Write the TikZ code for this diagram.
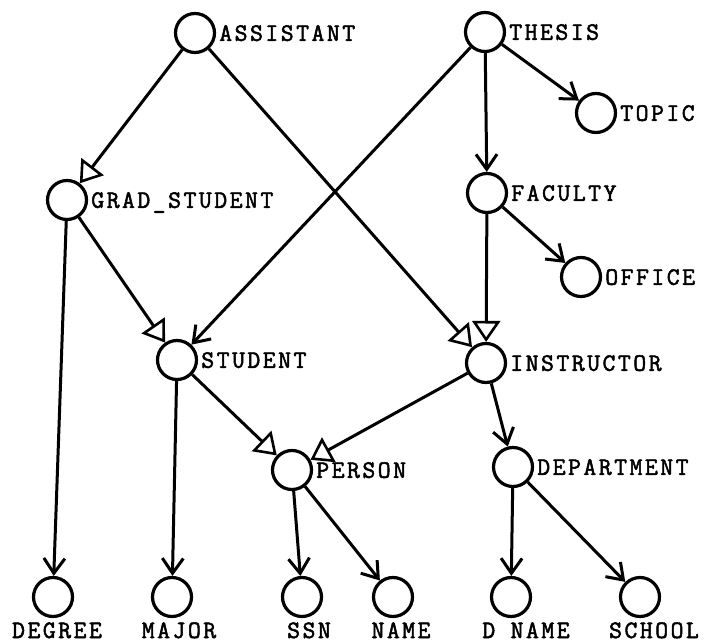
\documentclass[tikz,border=0pt]{standalone}
\usepackage{fontspec}
\newfontfamily\labfont[FakeBold=2,LetterSpace=10]{Latin Modern Mono}
\usetikzlibrary{arrows.meta}
\begin{document}
\begin{tikzpicture}[x=1pt,y=-1pt,
  ent/.style={circle, draw, line width=3.2pt, minimum size=39pt, inner sep=0pt},
  lab/.style={font=\labfont\fontsize{25}{25}\selectfont, inner sep=0pt, text depth=0pt},
  rlab/.style={label={[lab, label distance=3pt]right:#1}},
  isa/.style={line width=3pt, -{Triangle[open, length=21pt, width=28pt, line width=2.6pt]}},
  attr/.style={line width=3pt, -{Straight Barb[length=15pt, width=21pt, line width=3pt]}},
]
\useasboundingbox (0,0) rectangle (717,644);

% entity types
\node[ent, rlab=ASSISTANT]    (assistant)  at (195,33)  {};
\node[ent, rlab=THESIS]       (thesis)     at (485,32)  {};
\node[ent, rlab=TOPIC]        (topic)      at (596,113) {};
\node[ent, rlab=FACULTY]      (faculty)    at (487,193) {};
\node[ent, rlab=GRAD\_STUDENT] (grad)      at (67,200)  {};
\node[ent, rlab=OFFICE]       (office)     at (581,277) {};
\node[ent, rlab=STUDENT]      (student)    at (177,360) {};
\node[ent, rlab=INSTRUCTOR]   (instructor) at (486,363) {};
\node[ent, rlab=PERSON]       (person)     at (292,470) {};
\node[ent, rlab=DEPARTMENT]   (department) at (513,467) {};

% attribute leaves
\node[ent] (degree) at (53,597)  {};
\node[ent] (major)  at (172,597) {};
\node[ent] (ssn)    at (302,597) {};
\node[ent] (name)   at (393,597) {};
\node[ent] (dname)  at (511,597) {};
\node[ent] (school) at (640,597) {};

\node[lab, anchor=base] (ldegree) at (57,638)  {DEGREE};
\node[lab, anchor=base] (lmajor)  at (179,638) {MAJOR};
\node[lab, anchor=base] (lssn)    at (309,638) {SSN};
\node[lab, anchor=base] (lname)   at (401,638) {NAME};
\node[lab, anchor=base] (ldname)  at (526,638) {D NAME};
\node[lab, anchor=base] (lschool) at (654,638) {SCHOOL};

% generalisation links
\draw[isa] (assistant) -- (grad);
\draw[isa] (assistant) -- (instructor);
\draw[isa] (grad) -- (student);
\draw[isa] (faculty) -- (instructor);
\draw[isa] (student) -- (person);
\draw[isa] (instructor) -- (person);

% attribute / reference links
\draw[attr] (thesis) -- (student);
\draw[attr] (thesis) -- (faculty);
\draw[attr] (thesis) -- (topic);
\draw[attr] (faculty) -- (office);
\draw[attr] (grad) -- (degree);
\draw[attr] (student) -- (major);
\draw[attr] (instructor) -- (department);
\draw[attr] (person) -- (ssn);
\draw[attr] (person) -- (name);
\draw[attr] (department) -- (dname);
\draw[attr] (department) -- (school);
\end{tikzpicture}
\end{document}
